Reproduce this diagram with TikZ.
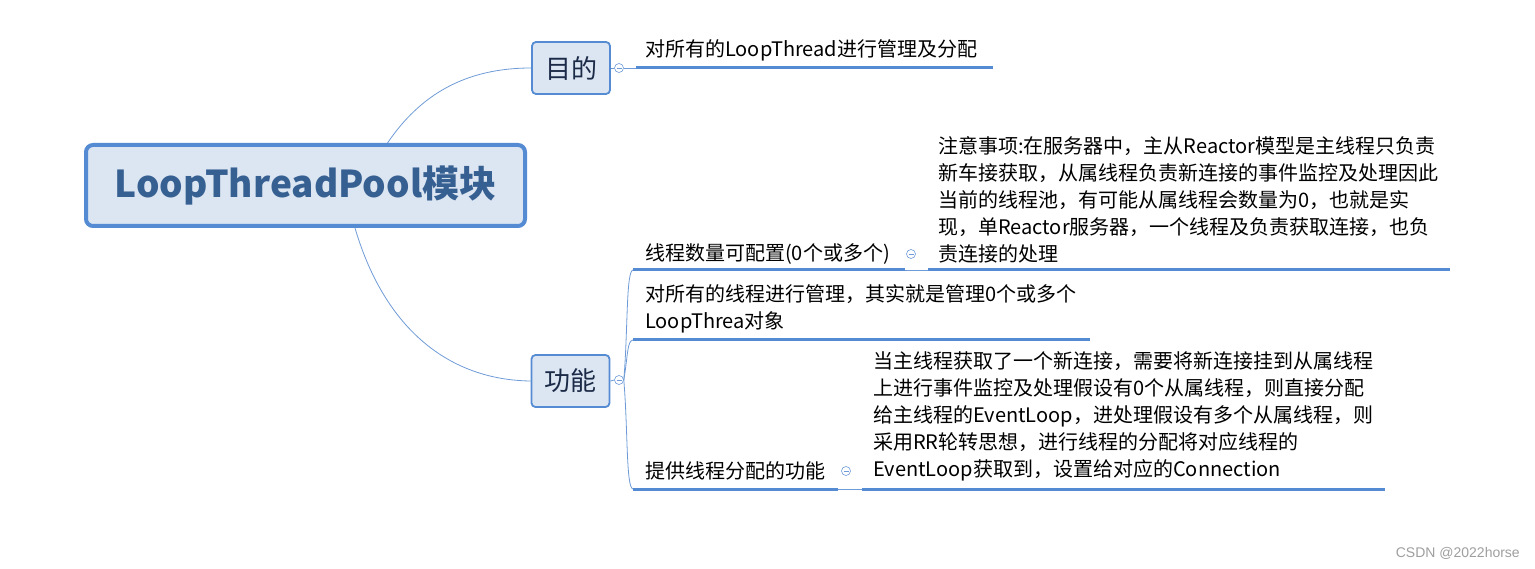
\documentclass[tikz,border=0pt]{standalone}
\usepackage{fontspec}
\setmainfont{Noto Sans CJK SC}
\newfontfamily\markfont{Liberation Sans}
\usetikzlibrary{positioning}
\definecolor{mapblue}{RGB}{84,139,210}
\definecolor{thinblue}{RGB}{110,155,215}
\definecolor{boxfill}{RGB}{220,230,242}
\definecolor{roottext}{RGB}{55,96,146}
\definecolor{topictext}{RGB}{27,42,71}
\tikzset{
  rootbox/.style={draw=mapblue,line width=4pt,fill=boxfill,rounded corners=7pt,
    minimum width=439pt,minimum height=81pt,text=roottext,
    font=\fontsize{37}{40}\selectfont\bfseries},
  mainbox/.style={draw=mapblue,line width=1.8pt,fill=boxfill,rounded corners=4pt,
    minimum width=78pt,minimum height=52pt,text=topictext,
    font=\fontsize{26}{30}\selectfont},
  leaf/.style={anchor=west,inner sep=0pt,align=left,font=\fontsize{20}{27}\selectfont},
  fold/.style={circle,draw=thinblue,line width=0.6pt,fill=white,inner sep=0pt,minimum size=9pt,
    path picture={\draw[thinblue,line width=0.6pt]
      ([xshift=2pt]path picture bounding box.west) -- ([xshift=-2pt]path picture bounding box.east);}},
  branch/.style={draw=thinblue,line width=0.8pt},
  underline/.style={draw=mapblue,line width=3pt},
}
\begin{document}
\begin{tikzpicture}[x=1pt,y=-1pt]
\useasboundingbox (0,0) rectangle (1535,569);
% central topic
\node[rootbox] (root) at (305.5,185.5) {LoopThreadPool模块};
\node[mainbox] (aim) at (571,68) {目的};
\node[mainbox] (func) at (570.5,381) {功能};
\draw[branch] ([xshift=82pt]root.north) .. controls (420,95) and (465,68) .. (aim.west);
\draw[branch] ([xshift=49.5pt]root.south) .. controls (385,330) and (450,380) .. (func.west);
% aim
\node[fold] (aimfold) at (619,68) {};
\coordinate (aimline) at (636,68);
\draw[branch] (aim.east) -- (aimfold.west);
\draw[branch] (aimfold.east) -- (aimline);
\draw[underline] (aimline) -- ++(357,0);
\node[leaf] (aimtext) at (645,50) {对所有的LoopThread进行管理及分配};
% func
\node[fold] (funcfold) at (619,380) {};
\draw[branch] (func.east) -- (funcfold.west);
\coordinate (numline) at (633,270);
\coordinate (mgrline) at (633,340);
\coordinate (distline) at (633,489);
\draw[branch] (funcfold.east) .. controls (628,330) and (626,271) .. (numline);
\draw[branch] (funcfold.east) .. controls (628,355) and (627,341) .. (mgrline);
\draw[branch] (funcfold.east) .. controls (628,430) and (626,488) .. (distline);
% thread number
\node[leaf] (num) at (645,254) {线程数量可配置(0个或多个)};
\draw[underline] (numline) -- ++(272,0) coordinate (numend);
\node[fold] (numfold) at (911,254) {};
\draw[branch] (numend) -- ++(23,0) coordinate (noteline);
\draw[underline] (noteline) -- (1450,270);
\node[leaf] (note) at (938,199.5) {注意事项:在服务器中，主从Reactor模型是主线程只负责\\新车接获取，从属线程负责新连接的事件监控及处理因此\\当前的线程池，有可能从属线程会数量为0，也就是实\\现，单Reactor服务器，一个线程及负责获取连接，也负\\责连接的处理};
% thread management
\node[leaf] (mgr) at (645,309) {对所有的线程进行管理，其实就是管理0个或多个\\LoopThrea对象};
\draw[underline] (mgrline) -- (1090,340);
% thread distribution
\node[leaf] (dist) at (645,471) {提供线程分配的功能};
\draw[underline] (distline) -- ++(205,0) coordinate (distend);
\node[fold] (distfold) at (846,471) {};
\draw[branch] (distend) -- ++(24,0) coordinate (distnoteline);
\draw[underline] (distnoteline) -- (1385,489);
\node[leaf] (distnote) at (873,416.5) {当主线程获取了一个新连接，需要将新连接挂到从属线程\\上进行事件监控及处理假设有0个从属线程，则直接分配\\给主线程的EventLoop，进处理假设有多个从属线程，则\\采用RR轮转思想，进行线程的分配将对应线程的\\EventLoop获取到，设置给对应的Connection};
% watermark
\node[anchor=east,inner sep=0pt,text=black!38,font=\markfont\fontsize{14}{16}\selectfont] (mark) at (1520,553) {CSDN @2022horse};
\end{tikzpicture}
\end{document}
